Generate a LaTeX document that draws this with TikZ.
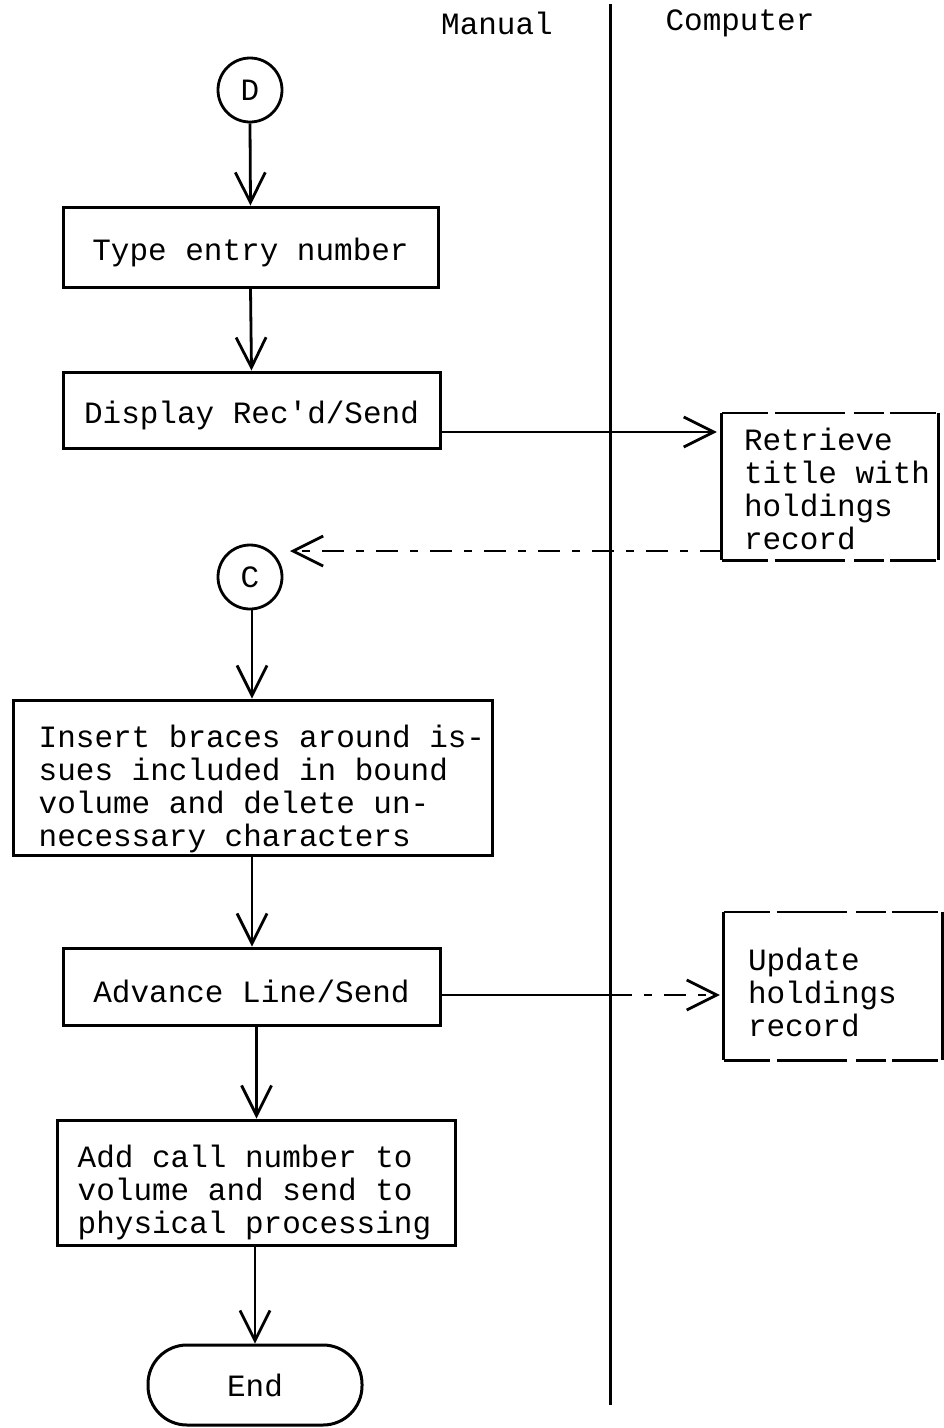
\documentclass[tikz,border=0pt]{standalone}
\usepackage{fontspec}
\setmainfont{Liberation Mono}
\usetikzlibrary{arrows.meta,calc}
\tikzset{
  every node/.style={font=\fontsize{31}{33}\selectfont},
  stepbox/.style={draw, line width=3pt, rectangle, inner sep=0pt, align=center, text height=32pt, text depth=6pt},
  framebox/.style={draw, line width=3pt, rectangle, inner sep=0pt},
  sidebox/.style={rectangle, inner sep=0pt},
  boxtext/.style={anchor=west, align=left, inner sep=0pt},
  conn/.style={draw, circle, line width=2.8pt, minimum size=64pt, inner sep=0pt},
  terminal/.style={draw, line width=3pt, rectangle, rounded corners=39pt, inner sep=0pt},
  flow/.style={line width=2.8pt, -{Straight Barb[length=30pt,width=30pt,line width=2.8pt]}},
  plain/.style={line width=2.8pt},
  brokenedge/.style={line width=2.6pt, dash pattern=on 46pt off 7pt on 70pt off 9pt on 30pt off 6pt},
  brokenflow/.style={flow, dash pattern=on 22pt off 12pt on 8pt off 12pt},
}
\begin{document}
\begin{tikzpicture}[x=1pt,y=-1pt]
\useasboundingbox (0,0) rectangle (944,1428);

% lane headings and divider
\node (manual) at (497,23) {Manual};
\node (computer) at (740,23) {Computer};
\coordinate (lanetop) at (610,4);
\coordinate (lanebot) at (610,1405);
\draw[line width=3pt] (lanetop) -- (lanebot);

% manual column
\node[conn] (D) at (250,90) {D};
\node[stepbox, minimum width=375pt, minimum height=80pt] (type) at (250.5,247) {Type entry number};
\node[stepbox, minimum width=377pt, minimum height=76pt] (display) at (251.5,410) {Display Rec\textquotesingle d/Send};
\node[conn] (C) at (250,577) {C};
\node[framebox, minimum width=479pt, minimum height=155pt] (insert) at (252.5,777.5) {};
\node[boxtext] (inserttext) at ([xshift=27pt,yshift=-11pt]insert.west)
  {Insert braces around is-\\sues included in bound\\volume and delete un-\\necessary characters};
\node[stepbox, minimum width=377pt, minimum height=77pt, text height=38pt] (advance) at (251.5,986.5) {Advance Line/Send};
\node[framebox, minimum width=398pt, minimum height=125pt] (addcall) at (256,1182.5) {};
\node[boxtext] (addcalltext) at ([xshift=22pt,yshift=-10pt]addcall.west)
  {Add call number to\\volume and send to\\physical processing};
\node[terminal, minimum width=214pt, minimum height=80pt] (end) at (255,1385) {End};

% computer column
\node[sidebox, minimum width=216pt, minimum height=147pt] (retrieve) at (830,486.5) {};
\node[boxtext] (retrievetext) at ([xshift=22pt,yshift=-2pt]retrieve.west)
  {Retrieve\\title with\\holdings\\record};
\draw[line width=2.8pt] (retrieve.north west) -- (retrieve.south west);
\draw[line width=2.8pt] (retrieve.north east) -- (retrieve.south east);
\draw[brokenedge] (retrieve.north west) -- (retrieve.north east);
\draw[brokenedge] (retrieve.south west) -- (retrieve.south east);

\node[sidebox, minimum width=218pt, minimum height=148pt] (update) at (833,986) {};
\node[boxtext] (updatetext) at ([xshift=24pt,yshift=-6pt]update.west)
  {Update\\holdings\\record};
\draw[line width=2.8pt] (update.north west) -- (update.south west);
\draw[line width=2.8pt] (update.north east) -- (update.south east);
\draw[brokenedge] (update.north west) -- (update.north east);
\draw[brokenedge] (update.south west) -- (update.south east);

% connectors
\draw[flow] (D.south) -- (type.north);
\draw[flow] (type.south) -- (display.north);
\draw[flow, shorten >=5pt] ([yshift=-22pt]display.east) -- ([yshift=-22pt]display.east -| retrieve.west);
\coordinate (cin) at (290,551);
\draw[brokenflow] (retrieve.west |- cin) -- (cin);
\draw[flow] ([xshift=2pt]C.south) -- ([xshift=2pt]C.south |- insert.north);
\draw[flow] ([xshift=2pt]insert.south -| C.south) -- ([xshift=2pt]C.south |- advance.north);
\coordinate (lanecross) at ([yshift=-8.5pt]advance.east -| lanetop);
\draw[plain] ([yshift=-8.5pt]advance.east) -- (lanecross);
\draw[brokenflow, shorten >=4pt] (lanecross) -- (lanecross -| update.west);
\draw[flow] ([xshift=5pt]advance.south) -- ([xshift=5pt]advance.south |- addcall.north);
\draw[flow] (addcall.south -| end.north) -- (end.north);
\end{tikzpicture}
\end{document}
